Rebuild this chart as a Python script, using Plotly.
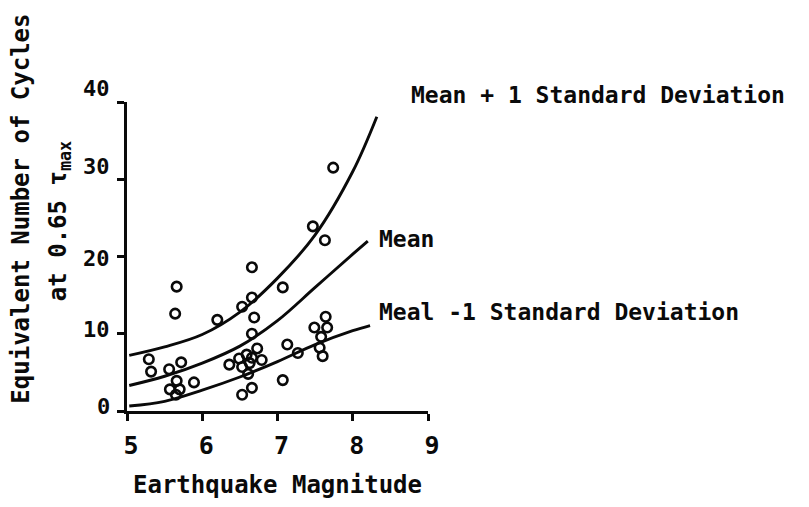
import plotly.graph_objects as go

# ---- data ----
obs_mag = [5.29, 5.32, 5.66, 5.64, 5.56, 5.72, 5.66, 5.57, 5.70, 5.65, 5.89,
           6.20, 6.36, 6.53, 6.66, 6.66, 6.69, 6.66, 6.73, 6.49, 6.59, 6.66,
           6.79, 6.53, 6.63, 6.61, 6.66, 6.53, 7.07, 7.13, 7.27, 7.07, 7.49,
           7.64, 7.66, 7.58, 7.56, 7.60, 7.63, 7.74, 7.47]
obs_cycles = [6.7, 5.1, 16.1, 12.6, 5.4, 6.3, 3.9, 2.8, 2.8, 2.1, 3.7,
              11.8, 6.0, 13.5, 18.6, 14.7, 12.1, 10.0, 8.1, 6.8, 7.3, 6.9,
              6.6, 5.7, 6.2, 4.8, 3.0, 2.1, 16.0, 8.6, 7.5, 4.0, 10.8,
              12.2, 10.8, 9.6, 8.2, 7.1, 22.1, 31.5, 23.9]

plus_mag = [5.03, 5.5, 6.0, 6.5, 7.0, 7.5, 8.0, 8.32]
plus_cycles = [7.2, 8.3, 9.9, 12.8, 17.2, 22.8, 31.0, 38.1]

mean_mag = [5.03, 5.5, 6.0, 6.5, 7.0, 7.5, 8.0, 8.2]
mean_cycles = [3.3, 4.5, 6.2, 8.4, 11.7, 16.0, 20.3, 22.0]

minus_mag = [5.03, 5.5, 6.0, 6.5, 7.0, 7.5, 8.0, 8.23]
minus_cycles = [0.64, 1.25, 2.7, 4.4, 6.4, 8.6, 10.4, 11.06]

x_ticks = [5, 6, 7, 8, 9]
y_ticks = [0, 10, 20, 30, 40]
y_tick_labels = ["0", "10", "20", "30", "40"]

curve_labels = ["Mean + 1 Standard Deviation", "Mean", "Meal -1 Standard Deviation"]

FONT = "DejaVu Sans Mono"
INK = "#0a0a0a"
WEIGHT = "bold"

fig = go.Figure()

curves = [(plus_mag, plus_cycles), (mean_mag, mean_cycles), (minus_mag, minus_cycles)]
for mx, my in curves:
    fig.add_trace(go.Scatter(x=mx, y=my, mode="lines",
                             line=dict(color=INK, width=2.9, shape="spline", smoothing=1.0),
                             showlegend=False, hoverinfo="skip"))

fig.add_trace(go.Scatter(x=obs_mag, y=obs_cycles, mode="markers",
                         marker=dict(symbol="circle-open", size=9.5, color=INK,
                                     line=dict(width=2.6, color=INK)),
                         showlegend=False))

annotations = []
# curve labels anchored to curve ends
label_offsets = [(32, 22), (9, 2), (7, 14)]
for (mx, my), text, (dx, dy) in zip(curves, curve_labels, label_offsets):
    annotations.append(dict(x=mx[-1], y=my[-1], xref="x", yref="y", text=text,
                            showarrow=False, xanchor="left", yanchor="middle",
                            xshift=dx, yshift=dy,
                            font=dict(family=FONT, size=23, color=INK, weight=WEIGHT)))

# y tick labels (scan places upper ones slightly above their ticks)
y_label_shift = [5, 4, -2, 13, 14]
for v, t, s in zip(y_ticks, y_tick_labels, y_label_shift):
    annotations.append(dict(x=x_ticks[0], y=v, xref="x", yref="y", text=t,
                            showarrow=False, xanchor="right", yanchor="middle",
                            xshift=-15, yshift=s,
                            font=dict(family=FONT, size=22, color=INK, weight=WEIGHT)))

# y axis title, two lines
annotations.append(dict(x=-0.352, y=0.655, xref="paper", yref="paper",
                        text="Equivalent Number of Cycles", textangle=-90,
                        showarrow=False, xanchor="center", yanchor="middle",
                        font=dict(family=FONT, size=24, color=INK, weight=WEIGHT)))
annotations.append(dict(x=-0.222, y=0.615, xref="paper", yref="paper",
                        text="at 0.65 τ<sub>max</sub>", textangle=-90,
                        showarrow=False, xanchor="center", yanchor="middle",
                        font=dict(family=FONT, size=24, color=INK, weight=WEIGHT)))

fig.update_layout(
    width=809, height=507,
    margin=dict(l=127, r=381, t=102, b=94),
    paper_bgcolor="white", plot_bgcolor="white",
    annotations=annotations,
    xaxis=dict(range=[5, 9], tickvals=x_ticks, ticktext=[str(v) for v in x_ticks],
               showgrid=False, zeroline=False, showline=True, linecolor=INK, linewidth=2.5,
               ticks="outside", ticklen=7, tickwidth=2.5, tickcolor=INK,
               ticklabelshift=4, ticklabelstandoff=3,
               tickfont=dict(family=FONT, size=25, color=INK, weight=WEIGHT),
               title=dict(text="Earthquake Magnitude", standoff=18,
                          font=dict(family=FONT, size=24, color=INK, weight=WEIGHT))),
    yaxis=dict(range=[0, 40], tickvals=y_ticks, showticklabels=False,
               showgrid=False, zeroline=False, showline=True, linecolor=INK, linewidth=2.5,
               ticks="outside", ticklen=7, tickwidth=2.5, tickcolor=INK),
)

fig.write_html("out.html")
